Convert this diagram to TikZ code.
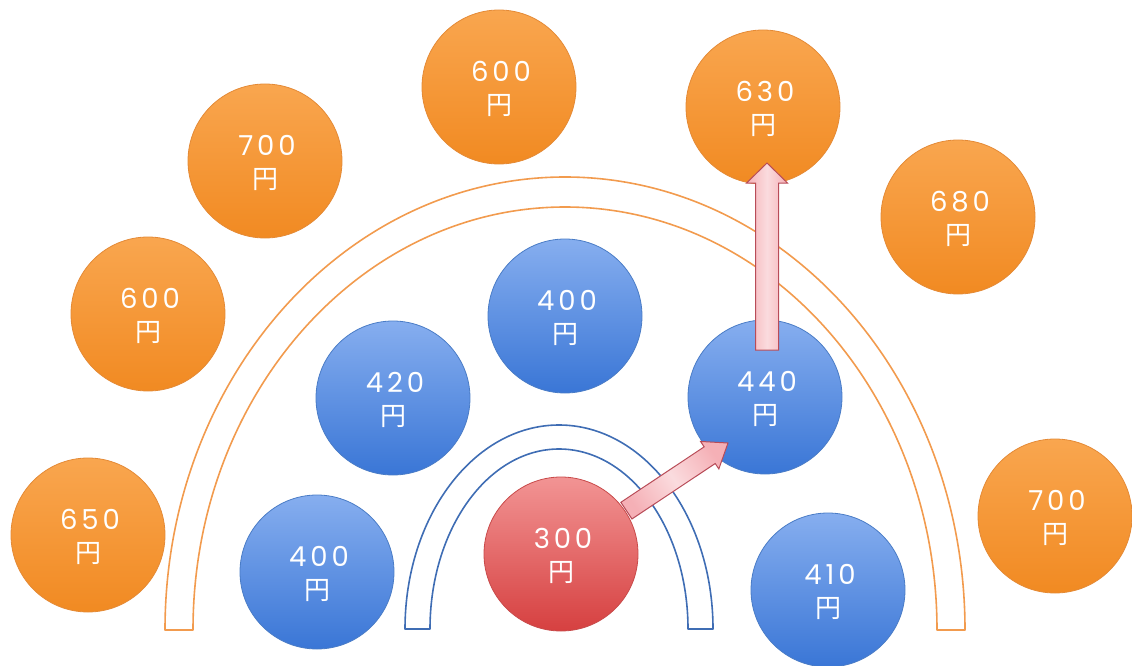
\documentclass[tikz,border=0pt]{standalone}
\usepackage{fontspec}
\newfontfamily\jpfont{Noto Sans CJK JP}
\newfontfamily\numfont[LetterSpace=14]{Poppins}
\usetikzlibrary{calc}

\definecolor{orangetop}{HTML}{F9A64F}
\definecolor{orangebot}{HTML}{F18A22}
\definecolor{orangeedge}{HTML}{E48A36}
\definecolor{bluetop}{HTML}{86AEEF}
\definecolor{bluebot}{HTML}{3A76D6}
\definecolor{blueedge}{HTML}{4A7CC6}
\definecolor{redtop}{HTML}{F29494}
\definecolor{redbot}{HTML}{D64040}
\definecolor{rededge}{HTML}{C84A4A}
\definecolor{arrowfill}{HTML}{F5B0B6}
\definecolor{arrowedge}{HTML}{B84C58}
\definecolor{archorange}{HTML}{F29B4E}
\definecolor{archblue}{HTML}{3F6DB4}

% price label: amount over the yen sign
\newcommand{\price}[1]{\rule{0pt}{25pt}{\numfont\fontsize{27.5}{33}\selectfont #1\kern-4pt}\\{\jpfont\fontsize{26}{33}\selectfont 円}}

\begin{document}
\begin{tikzpicture}[x=1pt,y=-1pt,
  coin/.style={circle, minimum size=154pt, inner sep=0pt, line width=0.8pt,
    text=white, align=center, font=\fontsize{26}{33}\selectfont},
  orangecoin/.style={coin, draw=orangeedge, top color=orangetop, bottom color=orangebot},
  bluecoin/.style={coin, draw=blueedge, top color=bluetop, bottom color=bluebot},
  redcoin/.style={coin, draw=rededge, top color=redtop, bottom color=redbot},
  archline/.style={line width=1.6pt, line join=round},
  blockarrow/.style={draw=arrowedge, line width=1pt, line join=miter,
    left color=arrowfill, right color=arrowfill, middle color=arrowfill!45!white}
]
\useasboundingbox (0,0) rectangle (1132,666);

% outer (orange) arch band
\draw[archline, draw=archorange]
  (165,630) arc[start angle=180, end angle=0, x radius=400pt, y radius=453pt]
  -- (937,630) arc[start angle=0, end angle=180, x radius=372pt, y radius=423pt]
  -- cycle;

% inner (blue) arch band
\draw[archline, draw=archblue]
  (405,629) arc[start angle=180, end angle=0, x radius=154pt, y radius=204pt]
  -- (688,629) arc[start angle=0, end angle=180, x radius=129pt, y radius=180pt]
  -- cycle;

% outer ring of prices
\node[orangecoin] (o1) at (499,87)  {\price{600}};
\node[orangecoin] (o2) at (763,107) {\price{630}};
\node[orangecoin] (o3) at (265,161) {\price{700}};
\node[orangecoin] (o4) at (958,217) {\price{680}};
\node[orangecoin] (o5) at (148,314) {\price{600}};
\node[orangecoin] (o6) at (88,535)  {\price{650}};
\node[orangecoin] (o7) at (1055,516){\price{700}};

% middle ring of prices
\node[bluecoin] (b1) at (565,316) {\price{400}};
\node[bluecoin] (b2) at (393,398) {\price{420}};
\node[bluecoin] (b3) at (765,397) {\price{440}};
\node[bluecoin] (b4) at (317,572) {\price{400}};
\node[bluecoin] (b5) at (828,590) {\price{410}};

% centre price
\node[redcoin] (r) at (561,554) {\price{300}};

% block arrows: tail, tip, shaft half width, head half width, head length
\coordinate (a1s) at ($(r.35)+(2,1)$);
\coordinate (a1e) at ($(b3.center)+(-37,46)$);
\coordinate (a1h) at ($(a1e)!22pt!(a1s)$);
\path[blockarrow, shading angle=125]
  ($(a1s)!10pt!90:(a1e)$) -- ($(a1h)!10pt!90:(a1e)$) -- ($(a1h)!16.5pt!90:(a1e)$)
  -- (a1e) -- ($(a1h)!16.5pt!-90:(a1e)$) -- ($(a1h)!10pt!-90:(a1e)$)
  -- ($(a1s)!10pt!-90:(a1e)$) -- cycle;

\coordinate (a2s) at ($(b3.center)+(2,-47)$);
\coordinate (a2e) at ($(o2.center)+(4,56)$);
\coordinate (a2h) at ($(a2e)!20pt!(a2s)$);
\path[blockarrow]
  ($(a2s)!11.5pt!90:(a2e)$) -- ($(a2h)!11.5pt!90:(a2e)$) -- ($(a2h)!20.5pt!90:(a2e)$)
  -- (a2e) -- ($(a2h)!20.5pt!-90:(a2e)$) -- ($(a2h)!11.5pt!-90:(a2e)$)
  -- ($(a2s)!11.5pt!-90:(a2e)$) -- cycle;
\end{tikzpicture}
\end{document}
